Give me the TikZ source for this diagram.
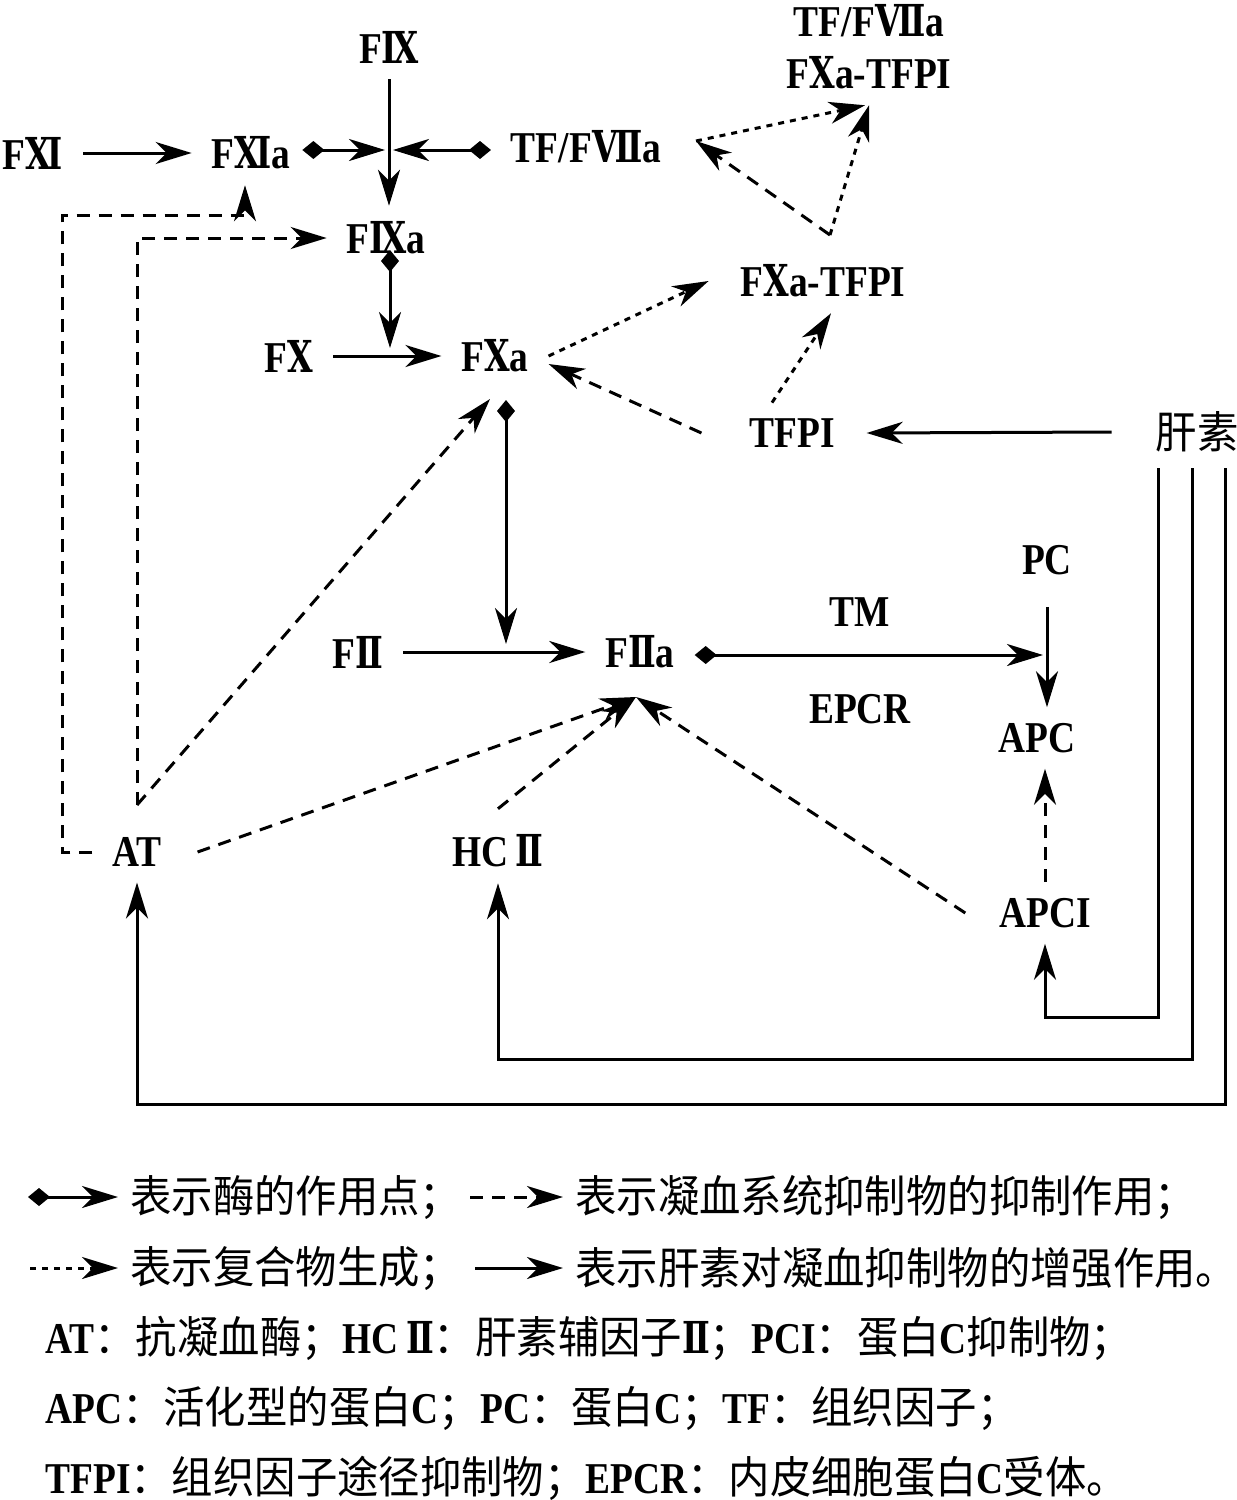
\documentclass[tikz,border=0pt]{standalone}
\usepackage{fontspec}
\setmainfont{Liberation Serif}[FakeStretch=0.85]
\newfontfamily\cjk{Noto Sans CJK SC}[FakeStretch=0.94]
\newfontfamily\rnfont{DejaVu Serif}[FakeStretch=0.75]
\usepackage{tikz}
\usepackage{tkz-graph}
\usetikzlibrary{arrows.meta}

\newcommand{\la}{\rmfamily\bfseries\fontsize{22}{26}\selectfont}
\newcommand{\zh}{\cjk\mdseries\fontsize{22}{26}\selectfont}
\newcommand{\rn}[1]{{\rnfont #1}}

\tikzset{
  lk/.style={line width=1.5pt},
  arr/.style={-{Stealth[length=18pt,width=11pt,inset=5.5pt]}},
  enzyme/.style={lk,{Diamond[length=11pt,width=9pt]}-{Stealth[length=18pt,width=11pt,inset=5.5pt]}},
  inhib/.style={lk,arr,dash pattern=on 6.5pt off 4.5pt},
  cplx/.style={lk,arr,dash pattern=on 3pt off 3pt},
  heparin/.style={lk,arr},
}

\begin{document}
\begin{tikzpicture}[x=0.5pt,y=-0.5pt]
\useasboundingbox (0,0) rectangle (1237,1500);
\GraphInit[vstyle=Normal]
\tikzset{VertexStyle/.style={shape=rectangle,align=center,inner xsep=10pt,inner ysep=8pt,font=\la}}
\Vertex[x=33,y=153,L={F\rn{Ⅺ}}]{FXI}
\Vertex[x=251,y=153,L={F\rn{Ⅺ}a}]{FXIa}
\Vertex[x=389,y=47,L={F\rn{Ⅸ}}]{FIX}
\Vertex[x=586,y=147,L={TF/F\rn{Ⅶ}a}]{TFa}
\Vertex[x=869,y=47,L={TF/F\rn{Ⅶ}a\\F\rn{Ⅹ}a-TFPI}]{XTt}
\Vertex[x=386,y=238,L={F\rn{Ⅸ}a}]{FIXa}
\Vertex[x=823,y=281,L={F\rn{Ⅹ}a-TFPI}]{XTm}
\Vertex[x=289,y=356,L={F\rn{Ⅹ}}]{FX}
\Vertex[x=495,y=356,L={F\rn{Ⅹ}a}]{FXa}
\Vertex[x=792,y=433,L={TFPI}]{TFPI}
\Vertex[x=1197,y=432,L={\zh 肝素}]{hep}
\Vertex[x=1047,y=560,L={PC}]{PC}
\Vertex[x=860,y=612,L={TM}]{TM}
\Vertex[x=358,y=652,L={F\rn{Ⅱ}}]{FII}
\Vertex[x=640,y=652,L={F\rn{Ⅱ}a}]{FIIa}
\Vertex[x=860,y=709,L={EPCR}]{EPCR}
\Vertex[x=1037,y=738,L={APC}]{APC}
\Vertex[x=137,y=852,L={AT}]{AT}
\Vertex[x=498,y=851,L={HC\,\rn{Ⅱ}}]{HCII}
\Vertex[x=1045,y=913,L={APCI}]{APCI}
% junctions and free ends
\coordinate (jIX) at (389,150);
\coordinate (jX) at (390,356);
\coordinate (dIX) at (390,250);
\coordinate (dXa) at (506,400);
\coordinate (jII) at (506,652);
\coordinate (jPC) at (1047,655);
\coordinate (jIIa) at (636,697);
\coordinate (jT) at (830,235);
\coordinate (tfR) at (696,141);
\coordinate (atN) at (137,805);
\coordinate (xaS) at (490,399);
\coordinate (cL) at (62,215);
% activation
\tikzset{EdgeStyle/.style={heparin}}
\Edge(FXI)(FXIa)
\Edge(FX)(FXa)
\Edge(FII)(FIIa)
\draw[heparin] (FIX.south -| jIX) -- (jIX |- FIXa.north);
\draw[heparin] ([yshift=-8pt]PC.south) -- (PC.south |- APC.north);
% enzyme sites
\draw[enzyme,shorten >=2pt] ([xshift=-4pt]FXIa.east |- jIX) -- (jIX);
\draw[enzyme,shorten >=2pt] (TFa.west |- jIX) -- (jIX);
\draw[enzyme,shorten >=4pt] (dIX) -- (jX);
\draw[enzyme,shorten >=4pt] (dXa) -- (jII);
\draw[enzyme,shorten >=2pt] (FIIa.east |- jPC) -- (jPC);
% inhibition
\draw[inhib] ([xshift=-14pt]TFPI.west) -- ([yshift=-4pt]FXa.east);
\draw[inhib] (jT) -- (tfR);
\draw[inhib] (APCI.north) -- (APCI.north |- APC.south);
\draw[inhib] ([xshift=-7pt]APCI.west) -- (jIIa);
\draw[inhib] ([yshift=5pt]HCII.north) -- (jIIa);
\draw[inhib] ([xshift=8pt]AT.east) -- (jIIa);
\draw[inhib] (atN) -- (xaS);
\draw[inhib] (atN) |- (FIXa.west);
\draw[inhib] (AT.west) -| (cL) -| ([xshift=-3pt]FXIa.south);
% complexes
\draw[cplx] (FXa.east) -- ([xshift=-6pt]XTm.west);
\draw[cplx] ([xshift=-10pt]TFPI.north) -- ([xshift=4pt]XTm.south);
\draw[cplx] (tfR) -- ([xshift=-2pt]XTt.south);
\draw[cplx] (jT) -- (XTt.south);
% heparin
\draw[heparin] ([xshift=-12pt]hep.west) -- ([xshift=6pt]TFPI.east);
\draw[heparin] ([xshift=-19.5pt]hep.south) -- ++(0,549) -| (APCI.south);
\draw[heparin] ([xshift=-2.5pt]hep.south) -- ++(0,591) -| (HCII.south);
\draw[heparin] ([xshift=14pt]hep.south) -- ++(0,636) -| (AT.south);
% legend
\node[anchor=west,inner sep=0pt] (t1) at (130,1197) {\zh 表示酶的作用点；};
\node[anchor=west,inner sep=0pt] (t2) at (575,1197) {\zh 表示凝血系统抑制物的抑制作用；};
\node[anchor=west,inner sep=0pt] (t3) at (130,1268) {\zh 表示复合物生成；};
\node[anchor=west,inner sep=0pt] (t4) at (575,1268) {\zh 表示肝素对凝血抑制物的增强作用。};
\coordinate (k1) at (28,1197);
\coordinate (k2) at (470,1197);
\coordinate (k3) at (30,1268);
\coordinate (k4) at (475,1268);
\draw[enzyme,shorten >=6pt] (k1) -- (t1.west);
\draw[inhib,shorten >=6pt] (k2) -- (t2.west);
\draw[cplx,shorten >=6pt] (k3) -- (t3.west);
\draw[heparin,shorten >=6pt] (k4) -- (t4.west);
\node[anchor=west,inner sep=0pt] (n1) at (45,1338) {{\la AT}{\zh ：抗凝血酶；}{\la HC\,\rn{Ⅱ}}{\zh ：肝素辅因子}{\la\rn{Ⅱ}}{\zh ；}{\la PCI}{\zh ：蛋白}{\la C}{\zh 抑制物；}};
\node[anchor=west,inner sep=0pt] (n2) at (45,1408) {{\la APC}{\zh ：活化型的蛋白}{\la C}{\zh ；}{\la PC}{\zh ：蛋白}{\la C}{\zh ；}{\la TF}{\zh ：组织因子；}};
\node[anchor=west,inner sep=0pt] (n3) at (45,1478) {{\la TFPI}{\zh ：组织因子途径抑制物；}{\la EPCR}{\zh ：内皮细胞蛋白}{\la C}{\zh 受体。}};
\end{tikzpicture}
\end{document}
